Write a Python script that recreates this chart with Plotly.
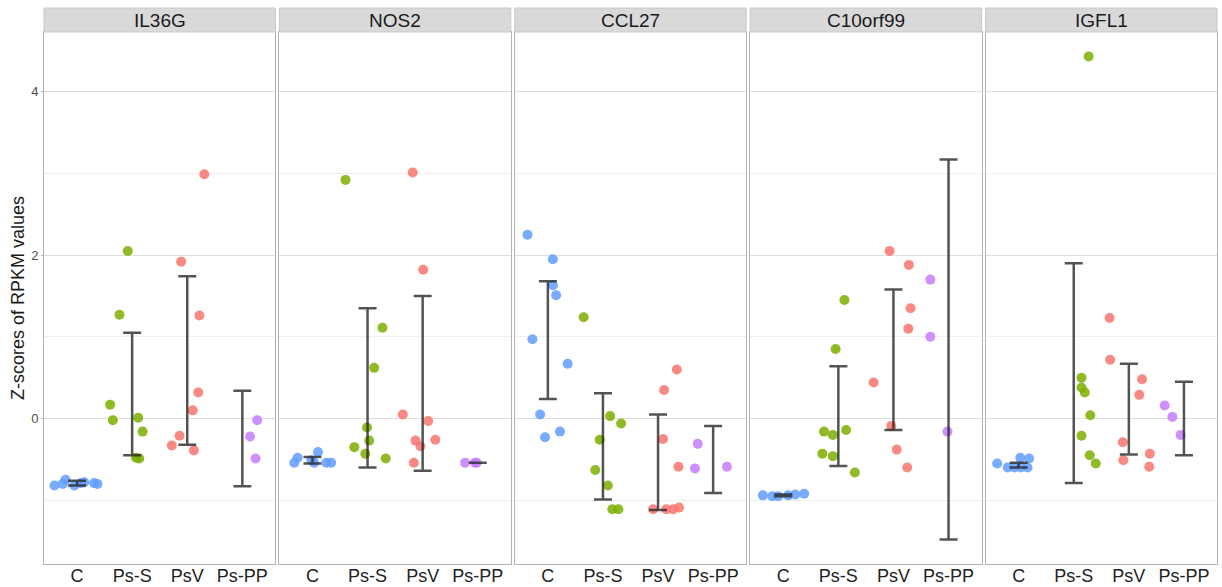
import plotly.graph_objects as go
from plotly.subplots import make_subplots

genes = ["IL36G", "NOS2", "CCL27", "C10orf99", "IGFL1"]
groups = ["C", "Ps-S", "PsV", "Ps-PP"]
colors = {"C": "#619CFF", "Ps-S": "#7CAE00", "PsV": "#F8766D", "Ps-PP": "#C77CFF"}

# z-score values per gene and group
il36g_vals = {
    "C": [-0.82, -0.80, -0.75, -0.82, -0.79, -0.78, -0.79, -0.80],
    "Ps-S": [2.05, 1.27, 0.17, -0.02, 0.01, -0.16, -0.48, -0.49],
    "PsV": [2.99, 1.92, 1.26, 0.32, 0.10, -0.21, -0.33, -0.39],
    "Ps-PP": [-0.02, -0.22, -0.49],
}
nos2_vals = {
    "C": [-0.54, -0.48, -0.51, -0.54, -0.41, -0.54, -0.54],
    "Ps-S": [2.92, 1.11, 0.62, -0.11, -0.27, -0.35, -0.43, -0.49],
    "PsV": [3.01, 1.82, 0.05, -0.03, -0.26, -0.27, -0.34, -0.54],
    "Ps-PP": [-0.54, -0.54, -0.54],
}
ccl27_vals = {
    "C": [2.25, 1.95, 1.63, 1.51, 0.97, 0.67, 0.05, -0.23, -0.16],
    "Ps-S": [1.24, 0.03, -0.06, -0.26, -0.63, -0.82, -1.11, -1.11],
    "PsV": [0.60, 0.35, -0.25, -0.59, -1.11, -1.11, -1.11, -1.09],
    "Ps-PP": [-0.31, -0.61, -0.59],
}
c10orf99_vals = {
    "C": [-0.94, -0.95, -0.95, -0.94, -0.93, -0.92],
    "Ps-S": [1.45, 0.85, -0.16, -0.20, -0.14, -0.43, -0.46, -0.66],
    "PsV": [2.05, 1.88, 1.35, 1.10, 0.44, -0.09, -0.38, -0.60],
    "Ps-PP": [1.70, 1.00, -0.16],
}
igfl1_vals = {
    "C": [-0.55, -0.60, -0.48, -0.49, -0.60, -0.60, -0.60],
    "Ps-S": [4.43, 0.50, 0.38, 0.32, 0.04, -0.21, -0.45, -0.55],
    "PsV": [1.23, 0.72, 0.48, 0.29, -0.29, -0.51, -0.43, -0.59],
    "Ps-PP": [0.16, 0.02, -0.20],
}

# horizontal jitter of each point (category units)
il36g_jit = {
    "C": [-0.41, -0.26, -0.21, -0.05, 0.07, 0.13, 0.31, 0.37],
    "Ps-S": [-0.08, -0.23, -0.40, -0.35, 0.11, 0.19, 0.07, 0.13],
    "PsV": [0.31, -0.11, 0.22, 0.20, 0.10, -0.14, -0.28, 0.12],
    "Ps-PP": [0.27, 0.14, 0.24],
}
nos2_jit = {
    "C": [-0.33, -0.27, -0.02, 0.03, 0.10, 0.25, 0.34],
    "Ps-S": [-0.40, 0.27, 0.12, -0.01, 0.03, -0.24, -0.04, 0.33],
    "PsV": [-0.18, 0.01, -0.36, 0.10, 0.23, -0.13, -0.04, -0.16],
    "Ps-PP": [-0.23, -0.05, -0.02],
}
ccl27_jit = {
    "C": [-0.37, 0.09, 0.09, 0.15, -0.28, 0.36, -0.14, -0.05, 0.22],
    "Ps-S": [-0.35, 0.13, 0.33, -0.06, -0.14, 0.09, 0.17, 0.28],
    "PsV": [0.34, 0.11, 0.09, 0.37, -0.09, 0.15, 0.27, 0.38],
    "Ps-PP": [-0.28, -0.33, 0.25],
}
c10orf99_jit = {
    "C": [-0.37, -0.20, -0.09, 0.09, 0.22, 0.38],
    "Ps-S": [0.11, -0.05, -0.26, -0.10, 0.14, -0.29, -0.10, 0.30],
    "PsV": [-0.07, 0.28, 0.31, 0.27, -0.36, -0.04, 0.06, 0.25],
    "Ps-PP": [-0.33, -0.33, -0.02],
}
igfl1_jit = {
    "C": [-0.39, -0.20, 0.03, 0.19, -0.08, 0.04, 0.16],
    "Ps-S": [0.27, 0.14, 0.14, 0.20, 0.30, 0.14, 0.29, 0.40],
    "PsV": [-0.35, -0.34, 0.24, 0.19, -0.11, -0.10, 0.38, 0.37],
    "Ps-PP": [-0.35, -0.21, -0.06],
}

# error bars (mean, lower, upper) per group, order C, Ps-S, PsV, Ps-PP
il36g_mean = [-0.79, 0.30, 0.71, -0.245]
il36g_lo = [-0.82, -0.45, -0.32, -0.83]
il36g_hi = [-0.76, 1.05, 1.74, 0.34]
nos2_mean = [-0.51, 0.375, 0.43, -0.54]
nos2_lo = [-0.55, -0.60, -0.64, -0.54]
nos2_hi = [-0.47, 1.35, 1.50, -0.54]
ccl27_mean = [0.96, -0.34, -0.535, -0.50]
ccl27_lo = [0.24, -0.99, -1.12, -0.91]
ccl27_hi = [1.68, 0.31, 0.05, -0.09]
c10orf99_mean = [-0.94, 0.03, 0.72, 0.85]
c10orf99_lo = [-0.95, -0.58, -0.14, -1.48]
c10orf99_hi = [-0.93, 0.64, 1.58, 3.17]
igfl1_mean = [-0.57, 0.555, 0.115, 0.0]
igfl1_lo = [-0.60, -0.79, -0.44, -0.45]
igfl1_hi = [-0.54, 1.90, 0.67, 0.45]

panels = [
    (il36g_vals, il36g_jit, il36g_mean, il36g_lo, il36g_hi),
    (nos2_vals, nos2_jit, nos2_mean, nos2_lo, nos2_hi),
    (ccl27_vals, ccl27_jit, ccl27_mean, ccl27_lo, ccl27_hi),
    (c10orf99_vals, c10orf99_jit, c10orf99_mean, c10orf99_lo, c10orf99_hi),
    (igfl1_vals, igfl1_jit, igfl1_mean, igfl1_lo, igfl1_hi),
]

FONT = "Liberation Sans, Arial, sans-serif"
W, H = 1222, 587
ML, MR, MT, MB = 44, 5, 32, 23
PH = H - MT - MB

fig = make_subplots(rows=1, cols=5, shared_yaxes=True, horizontal_spacing=4 / (W - ML - MR))

for i, (vals, jit, mean, lo, hi) in enumerate(panels):
    col = i + 1
    for gi, g in enumerate(groups):
        xs = [gi + 1 + j for j in jit[g]]
        fig.add_trace(go.Scatter(
            x=xs, y=vals[g], mode="markers",
            marker=dict(size=10, color=colors[g], opacity=0.85, line=dict(width=0)),
            showlegend=False, hoverinfo="y"), row=1, col=col)
    fig.add_trace(go.Scatter(
        x=[1, 2, 3, 4], y=mean, mode="markers",
        marker=dict(size=1, color="rgba(0,0,0,0)"),
        error_y=dict(type="data", symmetric=False,
                     array=[h - m for h, m in zip(hi, mean)],
                     arrayminus=[m - l for m, l in zip(mean, lo)],
                     color="rgba(40,40,40,0.8)", thickness=2.5, width=9),
        showlegend=False, hoverinfo="skip"), row=1, col=col)

    xa = "xaxis" if col == 1 else f"xaxis{col}"
    fig.layout[xa].update(
        range=[0.4, 4.6], tickmode="array", tickvals=[1, 2, 3, 4], ticktext=groups,
        showgrid=False, zeroline=False, showline=True, mirror=True, automargin=False,
        linecolor="#b3b3b3", linewidth=1, ticks="", ticklabelstandoff=-5,
        tickfont=dict(size=18, color="#222222", family=FONT))
    ya = "yaxis" if col == 1 else f"yaxis{col}"
    fig.layout[ya].update(
        range=[-1.78, 4.73], tickmode="linear", tick0=0, dtick=2, automargin=False,
        showgrid=True, gridcolor="#dedede", gridwidth=1, zeroline=False,
        showline=True, mirror=True, linecolor="#b3b3b3", linewidth=1,
        minor=dict(dtick=1, tick0=0, showgrid=True, gridcolor="#eeeeee", gridwidth=1),
        ticks="outside" if col == 1 else "", ticklen=2, tickcolor="#b3b3b3",
        tickfont=dict(size=13, color="#4d4d4d", family=FONT))

    xref = "x domain" if col == 1 else f"x{col} domain"
    fig.add_shape(type="rect", xref=xref, yref="paper", x0=0, x1=1,
                  y0=1, y1=1 + 24 / PH,
                  fillcolor="#d9d9d9", line=dict(color="#c8c8c8", width=1))
    fig.add_annotation(xref=xref, yref="paper", x=0.5, y=1 + 12 / PH,
                       text=genes[i], showarrow=False, yanchor="middle",
                       font=dict(size=19, color="#1a1a1a", family=FONT))

fig.layout.yaxis.update(title=dict(text="Z-scores of RPKM values",
                                   font=dict(size=18, color="#1a1a1a", family=FONT),
                                   standoff=1))

fig.update_layout(width=W, height=H, margin=dict(l=ML, r=MR, t=MT, b=MB),
                  plot_bgcolor="white", paper_bgcolor="white",
                  font=dict(family=FONT))

fig.write_html("out.html")
